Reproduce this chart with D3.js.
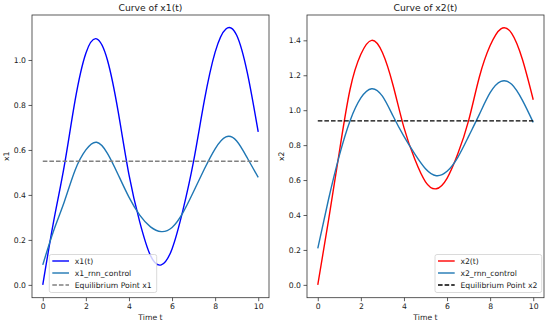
<!DOCTYPE html>
<html>
<head>
<meta charset="utf-8">
<script src="https://cdn.jsdelivr.net/npm/d3@7"></script>
<style>
  body { margin: 0; background: #fff; }
  svg text { font-family: "DejaVu Sans", sans-serif; fill: #222; }
</style>
</head>
<body>
<svg id="chart" width="550" height="324"></svg>
<script>
// time samples shared by every series
const timeT = [0, 0.5, 1, 1.5, 2, 2.5, 3, 3.5, 4, 4.5, 5, 5.5, 6, 6.5, 7, 7.5, 8, 8.5, 9, 9.5, 10];

const x1Values = [0, 0.28, 0.53, 0.82, 1.03, 1.094, 1.0, 0.77, 0.49, 0.28, 0.13, 0.089, 0.16, 0.33, 0.55, 0.82, 1.035, 1.138, 1.11, 0.94, 0.68];
const x1RnnValues = [0.089, 0.24, 0.37, 0.51, 0.60, 0.634, 0.585, 0.49, 0.39, 0.31, 0.258, 0.237, 0.255, 0.32, 0.415, 0.515, 0.605, 0.658, 0.64, 0.563, 0.478];
const x1Equilibrium = 0.55;

const x2Values = [0, 0.37, 0.76, 1.12, 1.32, 1.40, 1.33, 1.14, 0.90, 0.72, 0.59, 0.55, 0.61, 0.75, 0.94, 1.19, 1.37, 1.466, 1.44, 1.29, 1.06];
const x2RnnValues = [0.209, 0.49, 0.74, 0.94, 1.07, 1.123, 1.08, 0.965, 0.85, 0.75, 0.665, 0.625, 0.65, 0.73, 0.85, 0.976, 1.10, 1.165, 1.148, 1.056, 0.93];
const x2Equilibrium = 0.939;

const xTicks = [0, 2, 4, 6, 8, 10];
const x1Ticks = [0.0, 0.2, 0.4, 0.6, 0.8, 1.0];
const x2Ticks = [0.0, 0.2, 0.4, 0.6, 0.8, 1.0, 1.2, 1.4];

const svg = d3.select('#chart');
const fontSize = 7.7;

function drawPanel(opts) {
  const left = opts.left, right = opts.right;
  const top = 15, bottom = 297.7;

  const xScale = d3.scaleLinear().domain([-0.5, 10.5]).range([left, right]);
  const yScale = d3.scaleLinear().domain(opts.yDomain).range([bottom, top]);

  const g = svg.append('g');

  // x axis
  const xAxis = g.append('g')
    .attr('transform', `translate(0, ${bottom})`)
    .call(d3.axisBottom(xScale).tickValues(xTicks).tickSize(3.5).tickPadding(2.5).tickFormat(d3.format('d')));
  xAxis.select('.domain').remove();
  xAxis.selectAll('text').style('font-size', fontSize + 'px').attr('fill', '#222');
  xAxis.selectAll('line').attr('stroke', '#333').attr('stroke-width', 0.8);

  // y axis
  const yAxis = g.append('g')
    .attr('transform', `translate(${left}, 0)`)
    .call(d3.axisLeft(yScale).tickValues(opts.yTicks).tickSize(3.5).tickPadding(2.5).tickFormat(d3.format('.1f')));
  yAxis.select('.domain').remove();
  yAxis.selectAll('text').style('font-size', fontSize + 'px').attr('fill', '#222');
  yAxis.selectAll('line').attr('stroke', '#333').attr('stroke-width', 0.8);

  // frame
  g.append('rect')
    .attr('x', left).attr('y', top)
    .attr('width', right - left).attr('height', bottom - top)
    .attr('fill', 'none').attr('stroke', '#333').attr('stroke-width', 0.8);

  const line = d3.line()
    .x((d) => xScale(d.t))
    .y((d) => yScale(d.v))
    .curve(d3.curveNatural);

  const mainData = timeT.map((t, i) => ({ t: t, v: opts.main[i] }));
  const rnnData = timeT.map((t, i) => ({ t: t, v: opts.rnn[i] }));
  const eqData = [{ t: 0, v: opts.eq }, { t: 10, v: opts.eq }];

  g.append('path').datum(mainData)
    .attr('d', line).attr('fill', 'none')
    .attr('stroke', opts.mainColor).attr('stroke-width', 1.4);

  g.append('path').datum(rnnData)
    .attr('d', line).attr('fill', 'none')
    .attr('stroke', '#1f77b4').attr('stroke-width', 1.4);

  g.append('path').datum(eqData)
    .attr('d', d3.line().x((d) => xScale(d.t)).y((d) => yScale(d.v)))
    .attr('fill', 'none')
    .attr('stroke', opts.eqColor).attr('stroke-width', 1.4)
    .attr('stroke-dasharray', '4.6,2');

  // title and labels
  g.append('text')
    .attr('x', (left + right) / 2).attr('y', 10.7)
    .attr('text-anchor', 'middle')
    .style('font-size', '9.2px')
    .text(opts.title);

  g.append('text')
    .attr('x', (left + right) / 2).attr('y', 320)
    .attr('text-anchor', 'middle')
    .style('font-size', fontSize + 'px')
    .text('Time t');

  g.append('text')
    .attr('transform', `translate(${opts.yLabelX}, ${(top + bottom) / 2}) rotate(-90)`)
    .attr('text-anchor', 'middle')
    .style('font-size', fontSize + 'px')
    .text(opts.yLabel);

  // legend
  const lg = g.append('g');
  const boxTop = 254.5;
  lg.append('rect')
    .attr('x', opts.legendX).attr('y', boxTop)
    .attr('width', opts.legendW).attr('height', 38)
    .attr('rx', 2)
    .attr('fill', '#fff').attr('fill-opacity', 0.8)
    .attr('stroke', '#d0d0d0').attr('stroke-width', 0.8);

  const entries = [
    { label: opts.mainLabel, color: opts.mainColor, dash: null },
    { label: opts.rnnLabel, color: '#1f77b4', dash: null },
    { label: opts.eqLabel, color: opts.eqColor, dash: '4.6,2' }
  ];
  entries.forEach((e, i) => {
    const y = boxTop + 6.5 + i * 12;
    lg.append('line')
      .attr('x1', opts.legendX + 3).attr('x2', opts.legendX + 19.7)
      .attr('y1', y).attr('y2', y)
      .attr('stroke', e.color).attr('stroke-width', 1.4)
      .attr('stroke-dasharray', e.dash);
    lg.append('text')
      .attr('x', opts.legendX + 25.4).attr('y', y + 2.8)
      .style('font-size', fontSize + 'px')
      .text(e.label);
  });
}

drawPanel({
  left: 32, right: 269,
  yDomain: [-0.057, 1.2],
  yTicks: x1Ticks,
  main: x1Values, rnn: x1RnnValues, eq: x1Equilibrium,
  mainColor: '#0000ff', eqColor: '#808080',
  title: 'Curve of x1(t)', yLabel: 'x1', yLabelX: 9,
  mainLabel: 'x1(t)', rnnLabel: 'x1_rnn_control', eqLabel: 'Equilibrium Point x1',
  legendX: 49.3, legendW: 107.4
});

drawPanel({
  left: 307, right: 544,
  yDomain: [-0.0735, 1.545],
  yTicks: x2Ticks,
  main: x2Values, rnn: x2RnnValues, eq: x2Equilibrium,
  mainColor: '#ff0000', eqColor: '#000000',
  title: 'Curve of x2(t)', yLabel: 'x2', yLabelX: 284,
  mainLabel: 'x2(t)', rnnLabel: 'x2_rnn_control', eqLabel: 'Equilibrium Point x2',
  legendX: 435, legendW: 106.7
});
</script>
</body>
</html>
